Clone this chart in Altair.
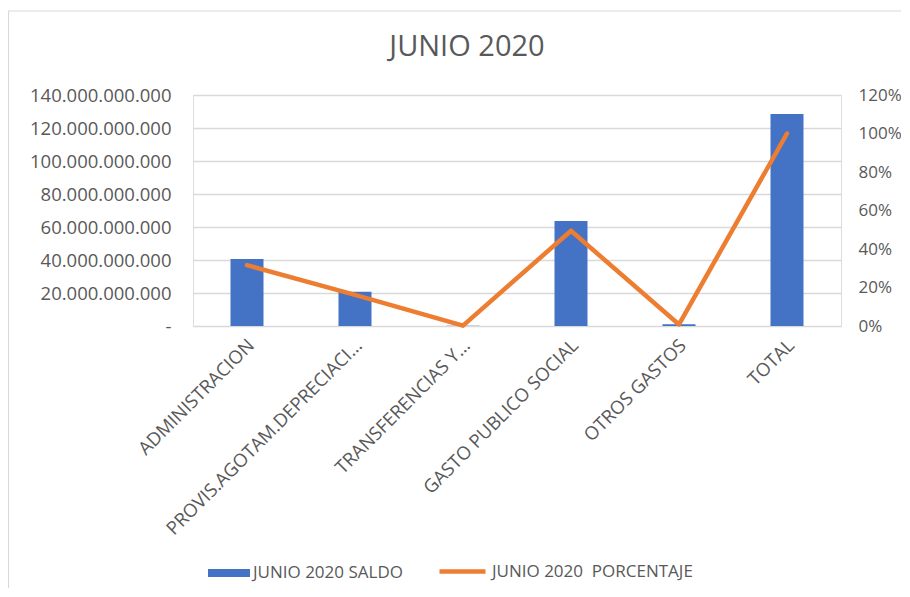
import altair as alt
import pandas as pd

categories = [
    "ADMINISTRACION",
    "PROVIS.AGOTAM.DEPRECIACI...",
    "TRANSFERENCIAS Y...",
    "GASTO PUBLICO SOCIAL",
    "OTROS GASTOS",
    "TOTAL",
]
saldo = [40.6e9, 20.8e9, 0.2e9, 63.6e9, 1.0e9, 128.5e9]
porcentaje = [0.316, 0.162, 0.002, 0.495, 0.008, 1.0]
serie_saldo = "JUNIO 2020 SALDO"
serie_pct = "JUNIO 2020\u00a0\u00a0PORCENTAJE"

df = pd.DataFrame({
    "cat": categories,
    "saldo": saldo,
    "pct": porcentaje,
    "s1": [serie_saldo] * len(categories),
    "s2": [serie_pct] * len(categories),
})

FONT = "Open Sans"
GREY = "#595959"
GRID = "#d9d9d9"
AXFS = 18.5

x = alt.X(
    "cat:N",
    sort=categories,
    title=None,
    scale=alt.Scale(paddingInner=0, paddingOuter=0),
    axis=alt.Axis(
        labelAngle=-45,
        labelAlign="right",
        labelBaseline="middle",
        labelPadding=16,
        labelOffset=4,
        labelLimit=400,
        ticks=False,
        domain=False,
        labelFont=FONT,
        labelFontSize=AXFS,
        labelColor=GREY,
    ),
)

bars = alt.Chart(df).mark_bar(size=33).encode(
    x=x,
    y=alt.Y(
        "saldo:Q",
        title=None,
        scale=alt.Scale(domain=[0, 140e9], nice=False),
        axis=alt.Axis(
            values=[0, 20e9, 40e9, 60e9, 80e9, 100e9, 120e9, 140e9],
            labelExpr="datum.value == 0 ? '-\u00a0\u00a0\u00a0' : replace(format(datum.value, ','), regexp(',', 'g'), '.')",
            ticks=False,
            domain=False,
            grid=True,
            gridColor=GRID,
            gridWidth=1.3,
            labelPadding=22,
            labelFont=FONT,
            labelFontSize=AXFS,
            labelColor=GREY,
        ),
    ),
    fill=alt.Fill(
        "s1:N",
        scale=alt.Scale(domain=[serie_saldo], range=["#4472C4"]),
        legend=alt.Legend(
            title=None,
            orient="none",
            legendX=15,
            legendY=457,
            padding=0,
            symbolType="M-1,-0.19H1V0.19H-1Z",
            symbolSize=1764,
            symbolStrokeWidth=0,
            labelOffset=3,
            labelLimit=400,
            labelFont=FONT,
            labelFontSize=17,
            labelColor=GREY,
        ),
    ),
)

line = alt.Chart(df).mark_line(strokeWidth=4.5, strokeCap="round", strokeJoin="round").encode(
    x=x,
    y=alt.Y(
        "pct:Q",
        title=None,
        scale=alt.Scale(domain=[0, 1.2], nice=False),
        axis=alt.Axis(
            orient="right",
            values=[0, 0.2, 0.4, 0.6, 0.8, 1.0, 1.2],
            format=".0%",
            ticks=False,
            domain=False,
            grid=False,
            labelPadding=17,
            labelFont=FONT,
            labelFontSize=17,
            labelColor=GREY,
        ),
    ),
    stroke=alt.Stroke(
        "s2:N",
        scale=alt.Scale(domain=[serie_pct], range=["#ED7D31"]),
        legend=alt.Legend(
            title=None,
            orient="none",
            legendX=244,
            legendY=451,
            padding=0,
            symbolType="stroke",
            symbolSize=2116,
            symbolStrokeWidth=4.5,
            labelOffset=4,
            labelLimit=400,
            labelFont=FONT,
            labelFontSize=17,
            labelColor=GREY,
        ),
    ),
)

# chart-area frame (only its left and top edges fall inside the picture)
frame = alt.Chart(pd.DataFrame({"frame": [0]})).mark_rect(
    fill="transparent", stroke=GRID, strokeWidth=1.2
).encode(
    x=alt.value(-184.5),
    x2=alt.value(720),
    y=alt.value(-84),
    y2=alt.value(560),
)

chart = (
    alt.layer(frame, bars, line)
    .resolve_scale(y="independent")
    .properties(
        width=648,
        height=231,
        autosize=alt.AutoSizeParams(type="none"),
        padding={"left": 185, "top": 87, "right": 60, "bottom": 262},
        title=alt.TitleParams(
            "JUNIO 2020",
            font=FONT,
            fontSize=29,
            fontWeight="normal",
            color=GREY,
            anchor="middle",
            frame="group",
            dx=-50,
            dy=52,
            offset=0,
        ),
    )
    .configure_view(stroke=None)
    .configure(background="white")
)

chart.save("out.html", embed_options={"renderer": "svg", "actions": False})
